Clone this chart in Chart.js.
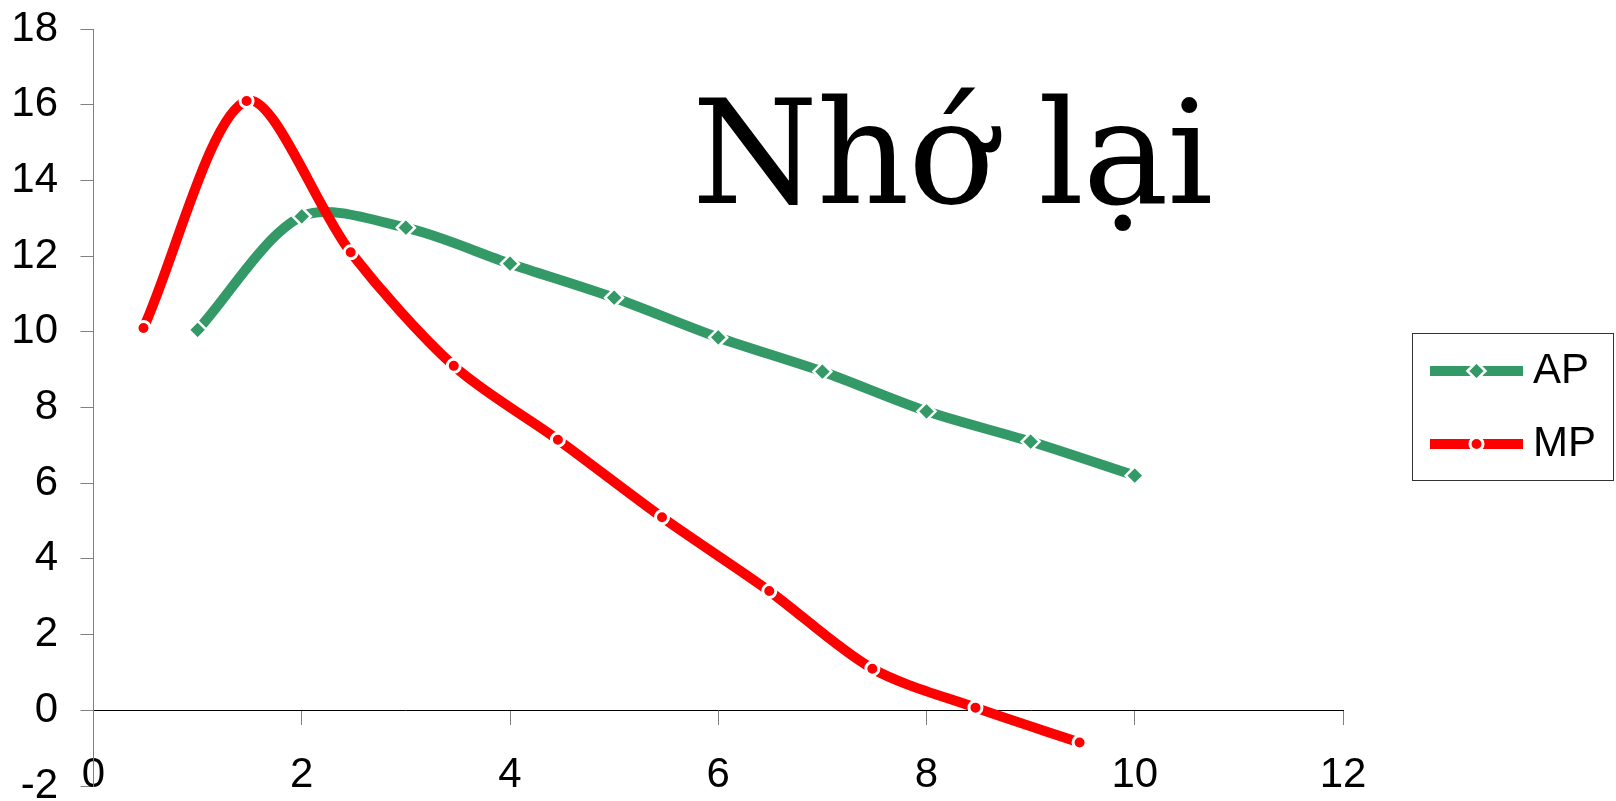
<!DOCTYPE html>
<html>
<head>
<meta charset="utf-8">
<title>Nhớ lại</title>
<script src="https://cdn.jsdelivr.net/npm/chart.js@4/dist/chart.umd.min.js"></script>
<style>
  html, body { margin: 0; padding: 0; background: #ffffff; }
  canvas { display: block; }
</style>
</head>
<body>
<canvas id="chart" width="1616" height="801"></canvas>
<script>
// Average product (AP) and marginal product (MP) curves
const seriesNames = ['AP', 'MP'];
const apX = [1, 2, 3, 4, 5, 6, 7, 8, 9, 10];
const apY = [10.05, 13.05, 12.75, 11.8, 10.9, 9.85, 8.95, 7.9, 7.1, 6.2];
const mpX = [0.48, 1.47, 2.47, 3.46, 4.46, 5.46, 6.49, 7.48, 8.47, 9.47];
const mpY = [10.1, 16.1, 12.1, 9.1, 7.15, 5.1, 3.15, 1.1, 0.07, -0.85];
const xTicks = [0, 2, 4, 6, 8, 10, 12];
const yTicks = [-2, 0, 2, 4, 6, 8, 10, 12, 14, 16, 18];
const chartTitle = 'Nhớ lại';

const GREEN = '#339966';
const RED = '#ff0000';
const FONT = 'Liberation Sans, Arial, sans-serif';

// Legend swatch: a thick line segment with the series marker in its middle.
// The image is wider than the drawn line so the marker sits where the line is.
function legendSwatch(color, pointStyle, radius, borderWidth) {
  const c = document.createElement('canvas');
  c.width = 160;
  c.height = 26;
  const g = c.getContext('2d');
  g.fillStyle = color;
  g.fillRect(67, 8, 93, 10);
  g.fillStyle = color;
  g.strokeStyle = '#ffffff';
  g.lineWidth = borderWidth;
  Chart.helpers.drawPoint(g, { pointStyle, radius, rotation: 0, borderWidth }, 113.5, 13);
  return c;
}

const datasets = [
  {
    label: seriesNames[0],
    data: apX.map((x, i) => ({ x, y: apY[i] })),
    showLine: true,
    borderColor: GREEN,
    backgroundColor: GREEN,
    borderWidth: 10,
    borderJoinStyle: 'round',
    tension: 0.3,
    pointStyle: 'rectRot',
    pointRadius: 9,
    pointHoverRadius: 9,
    pointBackgroundColor: GREEN,
    pointBorderColor: '#ffffff',
    pointBorderWidth: 2.5,
    order: 1
  },
  {
    label: seriesNames[1],
    data: mpX.map((x, i) => ({ x, y: mpY[i] })),
    showLine: true,
    borderColor: RED,
    backgroundColor: RED,
    borderWidth: 10,
    borderJoinStyle: 'round',
    tension: 0.3,
    pointStyle: 'circle',
    pointRadius: 6.5,
    pointHoverRadius: 6.5,
    pointBackgroundColor: RED,
    pointBorderColor: '#ffffff',
    pointBorderWidth: 3,
    order: 0
  }
];

// Large caption written inside the plot area
const captionPlugin = {
  id: 'caption',
  afterDraw(chart) {
    const ctx = chart.ctx;
    ctx.save();
    ctx.font = '144px "DejaVu Serif"';
    ctx.letterSpacing = '-1.3px';
    ctx.fillStyle = '#000000';
    ctx.textAlign = 'left';
    ctx.textBaseline = 'alphabetic';
    ctx.fillText(chartTitle, 692, 203);
    ctx.restore();
  }
};

// Thin frame around the legend entries
const legendFramePlugin = {
  id: 'legendFrame',
  afterDraw(chart) {
    const lg = chart.legend;
    const boxes = lg.legendHitBoxes;
    if (!boxes || !boxes.length) return;
    const first = boxes[0];
    const last = boxes[boxes.length - 1];
    const x0 = first.left + 38;
    const x1 = lg.right + 7;
    const y0 = first.top - 17;
    const y1 = last.top + last.height + 15;
    const ctx = chart.ctx;
    ctx.save();
    ctx.strokeStyle = '#333333';
    ctx.lineWidth = 1;
    ctx.strokeRect(Math.round(x0) + 0.5, Math.round(y0) + 0.5, Math.round(x1 - x0), Math.round(y1 - y0));
    ctx.restore();
  }
};

new Chart(document.getElementById('chart'), {
  type: 'scatter',
  data: { datasets },
  options: {
    responsive: false,
    animation: false,
    devicePixelRatio: 1,
    layout: { padding: { left: 11.5, top: 29, right: 10, bottom: 15 } },
    scales: {
      x: {
        type: 'linear',
        position: { y: 0 },
        min: xTicks[0],
        max: xTicks[xTicks.length - 1],
        afterBuildTicks: (s) => { s.ticks = xTicks.map((v) => ({ value: v })); },
        border: { display: true, color: '#000000', width: 1 },
        grid: { drawOnChartArea: false, drawTicks: true, tickLength: 14, color: '#808080', lineWidth: 1 },
        ticks: { color: '#000000', padding: 26, font: { family: FONT, size: 42 }, maxRotation: 0 }
      },
      y: {
        type: 'linear',
        position: 'left',
        min: yTicks[0],
        max: yTicks[yTicks.length - 1],
        afterBuildTicks: (s) => { s.ticks = yTicks.map((v) => ({ value: v })); },
        afterFit: (s) => { s.width = 82; s.paddingTop = 0; s.paddingBottom = 0; },
        border: { display: true, color: '#808080', width: 1 },
        grid: { drawOnChartArea: false, drawTicks: true, tickLength: 13, color: '#808080', lineWidth: 1 },
        ticks: { color: '#000000', padding: 22.5, font: { family: FONT, size: 42 } }
      }
    },
    plugins: {
      title: { display: false },
      tooltip: { enabled: false },
      legend: {
        display: true,
        position: 'right',
        align: 'center',
        labels: {
          usePointStyle: true,
          pointStyleWidth: 138,
          padding: 31,
          textAlign: 'left',
          color: '#000000',
          font: { family: FONT, size: 42 },
          generateLabels: (chart) => [
            {
              text: seriesNames[0],
              fillStyle: GREEN,
              strokeStyle: GREEN,
              lineWidth: 0,
              hidden: false,
              datasetIndex: 0,
              fontColor: '#000000',
              pointStyle: legendSwatch(GREEN, 'rectRot', 9, 2.5)
            },
            {
              text: seriesNames[1],
              fillStyle: RED,
              strokeStyle: RED,
              lineWidth: 0,
              hidden: false,
              datasetIndex: 1,
              fontColor: '#000000',
              pointStyle: legendSwatch(RED, 'circle', 6.5, 3)
            }
          ]
        }
      }
    }
  },
  plugins: [captionPlugin, legendFramePlugin]
});
</script>
</body>
</html>
